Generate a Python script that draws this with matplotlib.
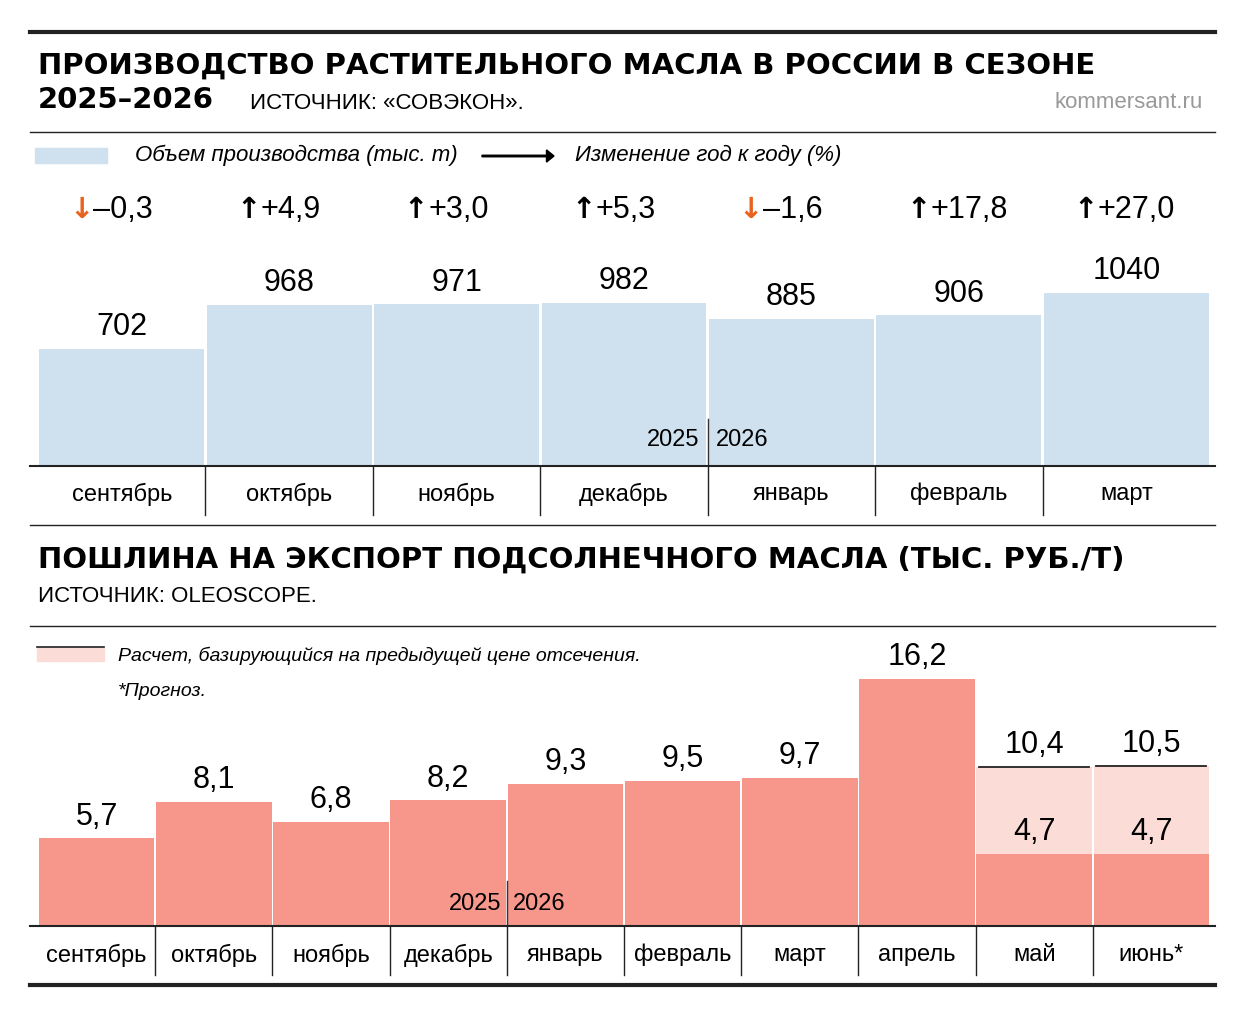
import matplotlib
matplotlib.use("Agg")
import matplotlib.pyplot as plt
from matplotlib.lines import Line2D
from matplotlib.patches import FancyArrow, Rectangle

plt.rcParams['font.family'] = ['Liberation Sans', 'DejaVu Sans']

months1 = ["сентябрь", "октябрь", "ноябрь", "декабрь", "январь", "февраль", "март"]
prod = [702, 968, 971, 982, 885, 906, 1040]
yoy = ["–0,3", "+4,9", "+3,0", "+5,3", "–1,6", "+17,8", "+27,0"]
yoy_up = [False, True, True, True, False, True, True]

months2 = ["сентябрь", "октябрь", "ноябрь", "декабрь", "январь", "февраль", "март",
           "апрель", "май", "июнь*"]
duty = [5.7, 8.1, 6.8, 8.2, 9.3, 9.5, 9.7, 16.2, 4.7, 4.7]
duty_calc = [None, None, None, None, None, None, None, None, 10.4, 10.5]

W, H = 1247, 1017
fig = plt.figure(figsize=(W / 100, H / 100), dpi=100)

def fy(py):
    return 1 - py / H

def hline(py, x0, x1, lw, c="#222222"):
    fig.add_artist(Line2D([x0 / W, x1 / W], [fy(py), fy(py)], lw=lw, color=c))

BLUE = "#cfe0ee"
RED = "#f7968a"
PINK = "#fcdcd6"
ORANGE = "#e8641e"

# header
hline(32, 30, 1215, 3)
fig.text(38 / W, fy(66), "ПРОИЗВОДСТВО РАСТИТЕЛЬНОГО МАСЛА В РОССИИ В СЕЗОНЕ",
         fontsize=21, fontweight="heavy", family="DejaVu Sans", va="center")
fig.text(38 / W, fy(100), "2025–2026", fontsize=21, fontweight="heavy",
         family="DejaVu Sans", va="center")
fig.text(250 / W, fy(103), "ИСТОЧНИК: «СОВЭКОН».", fontsize=16, va="center")
fig.text(1203 / W, fy(102), "kommersant.ru", fontsize=16, va="center", ha="right",
         color="#999999")
hline(132, 30, 1215, 1)

# legend 1
fig.patches.append(Rectangle((35 / W, fy(163)), 72 / W, 15 / H, color=BLUE,
                             transform=fig.transFigure))
fig.text(135 / W, fy(155), "Объем производства (тыс. т)", fontsize=16, style="italic", va="center")
fig.patches.append(FancyArrow(482 / W, fy(156), 72 / W, 0, width=0.0015,
                              head_width=0.012, head_length=0.006, color="black",
                              transform=fig.transFigure, length_includes_head=True))
fig.text(575 / W, fy(155), "Изменение год к году (%)", fontsize=16, style="italic", va="center")

# top chart
ax1 = fig.add_axes([38 / W, fy(465), 1172 / W, 265 / H])
x1 = range(len(prod))
ax1.bar(x1, prod, width=0.985, color=BLUE)
ax1.set_xlim(-0.5, len(prod) - 0.5)
ax1.set_ylim(0, 1602)
ax1.axis("off")
for i, v in enumerate(prod):
    ax1.text(i, v + 40, str(v), ha="center", va="bottom", fontsize=22)
    ax1.text(i - 0.17, 1540, "↑" if yoy_up[i] else "↓", ha="right", va="center",
             fontsize=21, color="black" if yoy_up[i] else ORANGE, family="DejaVu Sans",
             fontweight="bold")
    ax1.text(i - 0.17, 1540, yoy[i], ha="left", va="center", fontsize=22)
ax1.plot([3.5, 3.5], [0, 280], color="#333333", lw=1)
ax1.text(3.45, 150, "2025", ha="right", va="center", fontsize=17)
ax1.text(3.55, 150, "2026", ha="left", va="center", fontsize=17)

hline(466, 30, 1215, 1.5)
for i in range(1, len(months1)):
    xp = 38 + 1172 * i / len(months1)
    fig.add_artist(Line2D([xp / W] * 2, [fy(466), fy(515)], lw=1, color="#222222"))
for i, m in enumerate(months1):
    fig.text((38 + 1172 * (i + 0.5) / len(months1)) / W, fy(494), m, ha="center",
             va="center", fontsize=17)
hline(525, 30, 1215, 1)

# second header
fig.text(38 / W, fy(560), "ПОШЛИНА НА ЭКСПОРТ ПОДСОЛНЕЧНОГО МАСЛА (ТЫС. РУБ./Т)",
         fontsize=21, fontweight="heavy", family="DejaVu Sans", va="center")
fig.text(38 / W, fy(596), "ИСТОЧНИК: OLEOSCOPE.", fontsize=16, va="center")
hline(626, 30, 1215, 1)

fig.patches.append(Rectangle((37 / W, fy(661)), 67 / W, 14 / H, color=PINK,
                             transform=fig.transFigure))
hline(647, 37, 104, 1.2)
fig.text(118 / W, fy(656), "Расчет, базирующийся на предыдущей цене отсечения.",
         fontsize=14, style="italic", va="center")
fig.text(118 / W, fy(692), "*Прогноз.", fontsize=14, style="italic", va="center")

# bottom chart
ax2 = fig.add_axes([38 / W, fy(925), 1172 / W, 285 / H])
x2 = range(len(duty))
calc_vals = [c if c is not None else 0 for c in duty_calc]
ax2.bar(x2, calc_vals, width=0.985, color=PINK)
ax2.bar(x2, duty, width=0.985, color=RED)
ax2.set_xlim(-0.5, len(duty) - 0.5)
ax2.set_ylim(0, 18.77)
ax2.axis("off")
for i, v in enumerate(duty):
    ax2.text(i, v + 0.45, f"{v:.1f}".replace(".", ","), ha="center", va="bottom", fontsize=22)
    c = duty_calc[i]
    if c is not None:
        ax2.plot([i - 0.47, i + 0.47], [c, c], color="#222222", lw=1.3)
        ax2.text(i, c + 0.45, f"{c:.1f}".replace(".", ","), ha="center", va="bottom", fontsize=22)
ax2.plot([3.5, 3.5], [0, 2.9], color="#333333", lw=1)
ax2.text(3.45, 1.4, "2025", ha="right", va="center", fontsize=17)
ax2.text(3.55, 1.4, "2026", ha="left", va="center", fontsize=17)

hline(926, 30, 1215, 1.5)
for i in range(1, len(months2)):
    xp = 38 + 1172 * i / len(months2)
    fig.add_artist(Line2D([xp / W] * 2, [fy(926), fy(975)], lw=1, color="#222222"))
for i, m in enumerate(months2):
    fig.text((38 + 1172 * (i + 0.5) / len(months2)) / W, fy(955), m, ha="center",
             va="center", fontsize=17)
hline(985, 30, 1215, 3)

fig.savefig("out.png", dpi=100)
